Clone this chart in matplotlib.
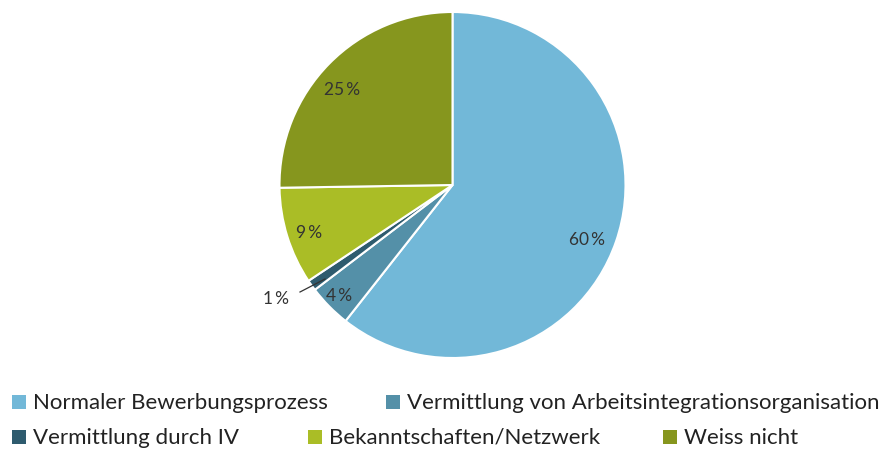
import matplotlib
matplotlib.use("Agg")
import matplotlib.pyplot as plt
from matplotlib.patches import Rectangle

plt.rcParams['font.family'] = ['Lato', 'DejaVu Sans']

categories = ["Normaler Bewerbungsprozess",
              "Vermittlung von Arbeitsintegrationsorganisation",
              "Vermittlung durch IV",
              "Bekanntschaften/Netzwerk",
              "Weiss nicht"]
values = [60, 4, 1, 9, 25]
colors = ["#72b8d8", "#5490a8", "#2e5b6e", "#aabd26", "#86961e"]

W, H = 894, 452
fig = plt.figure(figsize=(W / 100, H / 100), dpi=100)

# pie axes: center (452, 186) px, radius 173 px
cx, cy, r = 452.5, 186, 173
ax = fig.add_axes([(cx - r) / W, (H - cy - r) / H, 2 * r / W, 2 * r / H])
wedges, _ = ax.pie(values, colors=colors, startangle=90, counterclock=False,
                   radius=1, wedgeprops=dict(edgecolor="white", linewidth=1.5))
ax.set_xlim(-1, 1)
ax.set_ylim(-1, 1)
ax.set_aspect("equal")
ax.axis("off")

# percentage labels (pixel positions of the reference)
label_pos = [(587, 240), (339, 296), (276, 299), (309, 233), (342, 90)]
for v, (px, py) in zip(values, label_pos):
    fig.text(px / W, 1 - py / H, f"{v}\u2009%", ha="center", va="center",
             fontsize=12.5, color="#333333")
# leader line for 1 %
fig.add_artist(plt.Line2D([300 / W, 325 / W], [1 - 293 / H, 1 - 280 / H],
                          color="#333333", linewidth=0.9))

# legend, laid out in two rows as in the reference
legend_pos = [(12, 403), (386, 403), (12, 438), (308, 438), (663, 438)]
sq = 14
for cat, col, (px, py) in zip(categories, colors, legend_pos):
    fig.add_artist(Rectangle((px / W, 1 - (py + sq / 2) / H), sq / W, sq / H,
                             transform=fig.transFigure, facecolor=col,
                             edgecolor="none"))
    fig.text((px + sq + 7) / W, 1 - py / H, cat, ha="left", va="center",
             fontsize=16, color="#222222")

fig.savefig("out.png", dpi=100)
